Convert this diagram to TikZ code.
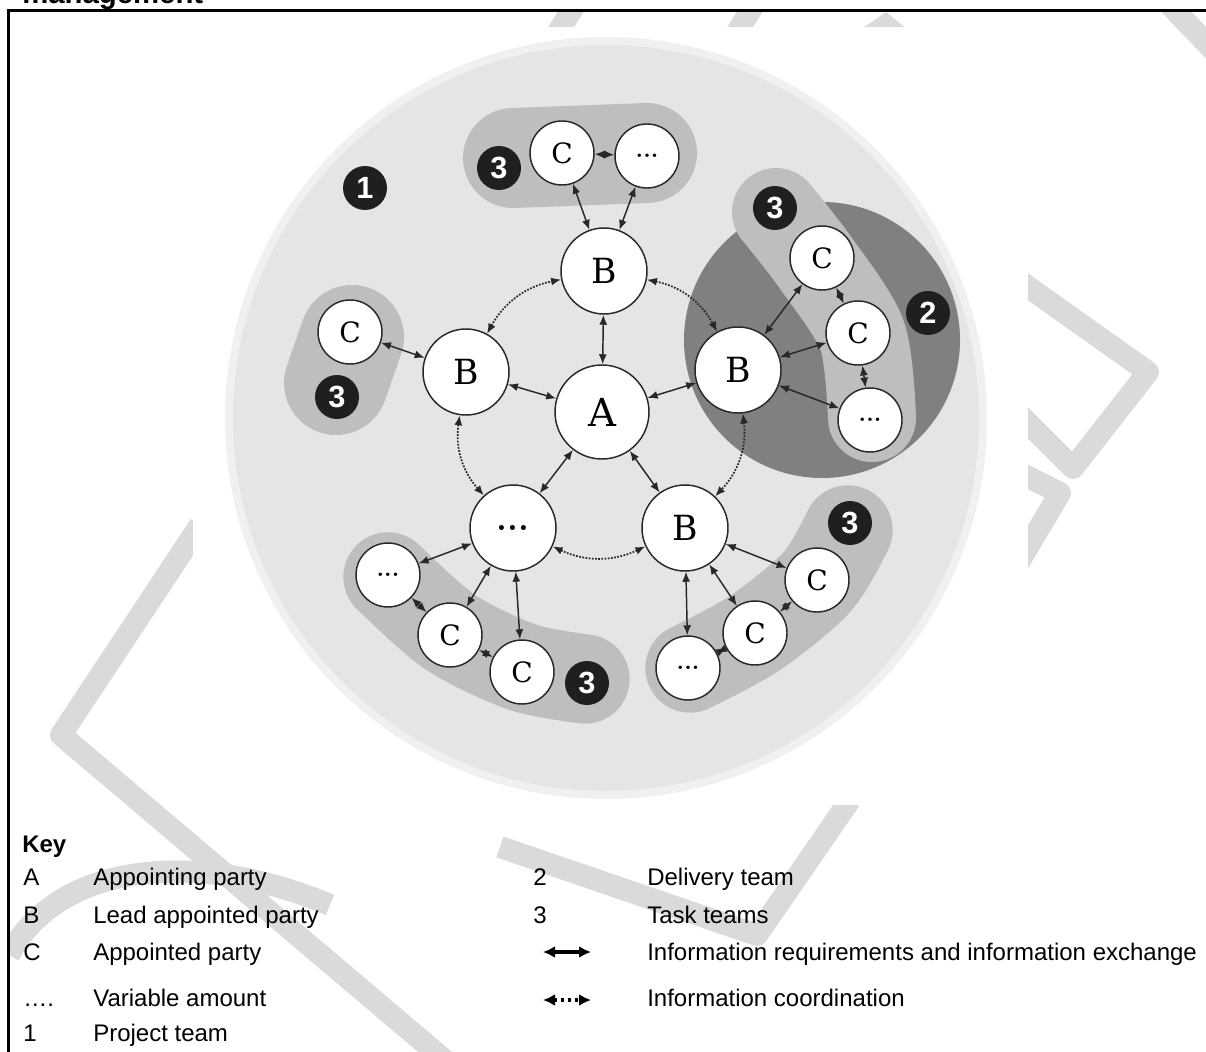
\documentclass[tikz,border=0pt]{standalone}
\usepackage{fontspec}
\setsansfont{Liberation Sans}
\newfontfamily\partyfont{DejaVu Serif}
\usetikzlibrary{arrows.meta}

\definecolor{wmgray}{RGB}{218,218,218}
\definecolor{teamhalo}{RGB}{240,240,240}
\definecolor{teamone}{RGB}{229,229,229}
\definecolor{teamtwo}{RGB}{128,128,128}
\definecolor{teamthree}{RGB}{190,190,190}
\definecolor{linegray}{RGB}{40,40,40}

\tikzset{
  party/.style={circle, draw=linegray, fill=white, line width=1.1pt, inner sep=0pt},
  leadparty/.style={party, minimum size=64.5pt, font=\partyfont\fontsize{26}{26}\selectfont},
  clientparty/.style={party, minimum size=70.5pt, font=\partyfont\fontsize{29}{29}\selectfont},
  apparty/.style={party, minimum size=48pt, font=\partyfont\fontsize{21}{21}\selectfont},
  dotsbig/.style={font=\bfseries\fontsize{26}{26}\selectfont},
  dotssmall/.style={font=\bfseries\fontsize{18}{18}\selectfont},
  badge/.style={circle, fill=black!88, text=white, minimum size=33pt, inner sep=0pt, font=\sffamily\bfseries\fontsize{23}{23}\selectfont},
  exchange/.style={<->, >={Latex[length=7.5pt,width=6pt]}, line width=1.1pt, draw=linegray},
  coordination/.style={exchange, line width=1.3pt, dash pattern=on 1.3pt off 1.1pt},
  keytext/.style={anchor=base west, inner sep=0pt, font=\sffamily\fontsize{18}{18}\selectfont},
  band/.style={draw=teamthree, line cap=round, line join=round},
  wm/.style={draw=wmgray, line width=16.5pt, line join=round},
}

\begin{document}
\begin{tikzpicture}[x=0.75pt, y=-0.75pt]
\useasboundingbox (0,0) rectangle (1206,1052);
\clip (0,0) rectangle (1206,1052);

% watermark behind the figure
\begin{scope}
\clip (9.5,11.5) rectangle (1206,1052);
\draw[wm] (200,525) -- (61,735) -- (480,1090);
\draw[wm] (9,955) .. controls (60,860) and (200,850) .. (330,905);
\draw[wm] (500,847) -- (757,935) -- (850,800);
\draw[wm] (578,0) -- (550,45);
\draw[wm] (757,0) -- (729,45);
\fill[wmgray] (860,30) -- (886,12) -- (908,30) -- cycle;
\draw[wm] (1165,0) -- (1215,52);
\draw[wm] (1000,267) -- (1148,372) -- (1073,468) -- (1000,395);
\draw[wm] (1000,463) -- (1060,493) -- (1000,594);
\end{scope}
\fill[white] (193,27) rectangle (1028,805);

% frame and cut title
\draw[line width=1.9pt] (8.5,1052) -- (8.5,10.5) -- (1206,10.5);
\node[anchor=base west, inner sep=0pt, font=\sffamily\bfseries\fontsize{22}{22}\selectfont] (title) at (22,4) {management};

% teams
\fill[teamhalo] (606,418) circle[radius=381];
\fill[teamone] (606,418) circle[radius=373];
\draw[band, line width=75pt] (513,158) -- (647,153);
\draw[band, line width=78pt] (352,337) -- (336,383);
\draw[band, line width=67pt] plot[smooth] coordinates {(388,577) (450,632) (522,667) (585,679)};
\draw[band, line width=67pt] plot[smooth] coordinates {(848,530) (817,582) (755,633) (690,668)};
\fill[teamtwo] (822,340) circle[radius=138];
\draw[band, line width=66pt] plot[smooth] coordinates {(776,212) (815,262) (862,335) (872,418)};

% parties
\node[clientparty] (A) at (602,412) {A};
\node[leadparty] (Btop) at (604,271) {B};
\node[leadparty] (Bleft) at (466,372) {B};
\node[leadparty] (Bright) at (738,370) {B};
\node[leadparty, dotsbig] (Dbig) at (513,528) {...};
\node[leadparty] (Bbr) at (685,528) {B};

\node[apparty] (Ctop) at (562,153) {C};
\node[apparty, dotssmall] (Dtop) at (647,156) {...};
\node[apparty] (Cleft) at (350,332) {C};
\node[apparty] (Cr1) at (822,258) {C};
\node[apparty] (Cr2) at (858,333) {C};
\node[apparty, dotssmall] (Dr) at (870,420) {...};
\node[apparty, dotssmall] (Dsl) at (388,575) {...};
\node[apparty] (Cbl1) at (450,635) {C};
\node[apparty] (Cbl2) at (522,672) {C};
\node[apparty] (Cbr1) at (817,580) {C};
\node[apparty] (Cbr2) at (755,633) {C};
\node[apparty, dotssmall] (Dbr) at (688,668) {...};

\node[badge] (one) at (365,188) {1};
\node[badge] (two) at (928,313) {2};
\node[badge] (threetop) at (499,168) {3};
\node[badge] (threeleft) at (337,397) {3};
\node[badge] (threeright) at (775,208) {3};
\node[badge] (threebl) at (587,683) {3};
\node[badge] (threebr) at (850,523) {3};

% information exchange
\draw[exchange] (A) -- (Btop);
\draw[exchange] (A) -- (Bleft);
\draw[exchange] (A) -- (Bright);
\draw[exchange] (A) -- (Dbig);
\draw[exchange] (A) -- (Bbr);
\draw[exchange] (Btop) -- (Ctop);
\draw[exchange] (Btop) -- (Dtop);
\draw[exchange] (Bleft) -- (Cleft);
\draw[exchange] (Bright) -- (Cr1);
\draw[exchange] (Bright) -- (Cr2);
\draw[exchange] (Bright) -- (Dr);
\draw[exchange] (Dbig) -- (Dsl);
\draw[exchange] (Dbig) -- (Cbl1);
\draw[exchange] (Dbig) -- (Cbl2);
\draw[exchange] (Bbr) -- (Cbr1);
\draw[exchange] (Bbr) -- (Cbr2);
\draw[exchange] (Bbr) -- (Dbr);
\draw[exchange] (Ctop) -- (Dtop);
\draw[exchange] (Cr1) -- (Cr2);
\draw[exchange] (Cr2) -- (Dr);
\draw[exchange] (Cbl1) -- (Dsl);
\draw[exchange] (Cbl1) -- (Cbl2);
\draw[exchange] (Cbr2) -- (Cbr1);
\draw[exchange] (Cbr2) -- (Dbr);

% information coordination
\draw[coordination] (Btop) to[bend left=25] (Bright);
\draw[coordination] (Bright) to[bend left=25] (Bbr);
\draw[coordination] (Bbr) to[bend left=25] (Dbig);
\draw[coordination] (Dbig) to[bend left=25] (Bleft);
\draw[coordination] (Bleft) to[bend left=25] (Btop);

% key
\node[keytext, font=\sffamily\bfseries\fontsize{18}{18}\selectfont] (keyhead) at (22,852) {Key};
\node[keytext] (ka) at (23,885) {A};
\node[keytext] (kat) at (93,885) {Appointing party};
\node[keytext] (kb) at (23,923) {B};
\node[keytext] (kbt) at (93,923) {Lead appointed party};
\node[keytext] (kc) at (23,960) {C};
\node[keytext] (kct) at (93,960) {Appointed party};
\node[keytext] (kd) at (23,1006) {….};
\node[keytext] (kdt) at (93,1006) {Variable amount};
\node[keytext] (k1) at (23,1041) {1};
\node[keytext] (k1t) at (93,1041) {Project team};
\node[keytext] (k2) at (533,885) {2};
\node[keytext] (k2t) at (647,885) {Delivery team};
\node[keytext] (k3) at (533,923) {3};
\node[keytext] (k3t) at (647,923) {Task teams};
\node[keytext] (kex) at (647,960) {Information requirements and information exchange};
\node[keytext] (kco) at (647,1006) {Information coordination};
\coordinate (exa) at (543,952);
\coordinate (exb) at (591,952);
\coordinate (coa) at (543,1000);
\coordinate (cob) at (591,1000);
\draw[<->, >={Latex[length=9pt,width=9pt]}, line width=2.4pt] (exa) -- (exb);
\draw[<->, >={Latex[length=9pt,width=9pt]}, line width=2.6pt, dash pattern=on 2.6pt off 2.6pt] (coa) -- (cob);

\end{tikzpicture}
\end{document}
